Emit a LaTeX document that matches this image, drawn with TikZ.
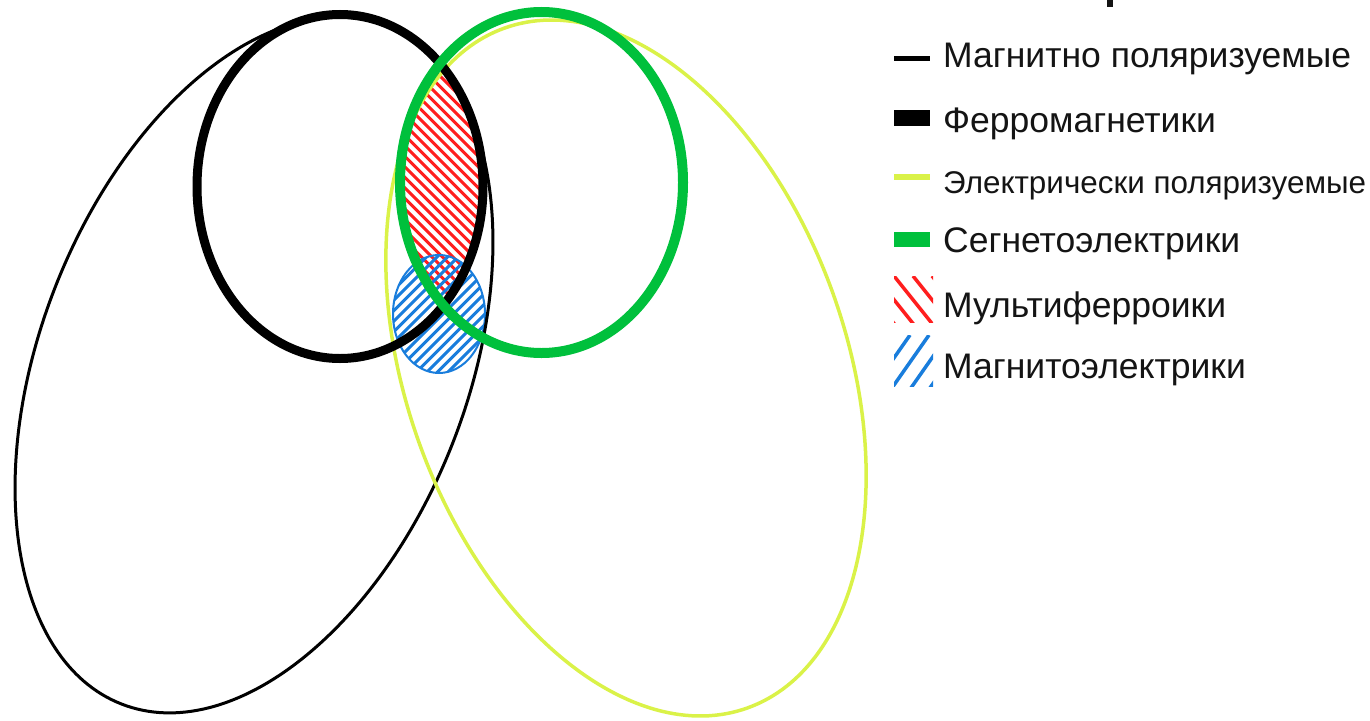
\documentclass[tikz,border=0pt]{standalone}
\usepackage{fontspec}
\setmainfont{Liberation Sans}
\definecolor{elyellow}{RGB}{218,242,72}
\definecolor{segngreen}{RGB}{0,192,60}
\definecolor{mfred}{RGB}{255,30,30}
\definecolor{meblue}{RGB}{25,125,220}
\definecolor{txt}{RGB}{20,20,20}
\begin{document}
\begin{tikzpicture}[x=1pt,y=-1pt,
  magpol/.style={black,line width=3},
  ferro/.style={black,line width=9},
  elpol/.style={elyellow,line width=3.5},
  segn/.style={segngreen,line width=10},
  redhatch/.style={mfred,line width=3},
  bluehatch/.style={meblue,line width=3},
  legtext/.style={anchor=base west,inner sep=0pt,text=txt,font=\fontsize{35.5}{40}\selectfont},
  legsmall/.style={legtext,font=\fontsize{31.4}{38}\selectfont},
]
\useasboundingbox (0,0) rectangle (1370,720);
% red hatch: ferromagnetics and ferroelectrics
\begin{scope}
  \clip (340,186.5) ellipse [x radius=143, y radius=172];
  \clip (541.5,182.5) ellipse [x radius=141.5, y radius=170.5];
  \foreach \k in {0,...,40} \draw[redhatch] (70+\k*10.5,0) -- ++(420,420);
\end{scope}
% blue hatch: magnetoelectrics
\begin{scope}
  \clip (439,314) ellipse [x radius=46, y radius=59];
  \foreach \k in {0,...,27} \draw[bluehatch] (610+\k*10.5,0) -- ++(-420,420);
\end{scope}
\draw[meblue,line width=2] (439,314) ellipse [x radius=46, y radius=59];
% sets
\draw[magpol, shift={(254,365)}, rotate=68.66] (0,0) ellipse [x radius=364, y radius=213.5];
\draw[elpol, shift={(626,368)}, rotate=-70.35] (0,0) ellipse [x radius=361, y radius=220];
\draw[ferro] (340,186.5) ellipse [x radius=143, y radius=172];
\draw[segn] (541.5,182.5) ellipse [x radius=141.5, y radius=170.5];
% cut-off fragment at top
\fill[txt] (1107,0) rectangle (1113,7);
% legend samples
\draw[black,line width=5] (894,58) -- (930,58);
\draw[black,line width=16] (894,118) -- (930,118);
\draw[elyellow,line width=5.5] (894,177) -- (930,177);
\draw[segngreen,line width=15] (894,239) -- (930,239);
\begin{scope}
  \clip (894,276) rectangle (933,322);
  \foreach \x in {856,875,894,913,932} \draw[redhatch,line width=3.5] (\x,276) -- ++(44,55);
\end{scope}
\begin{scope}
  \clip (894,335) rectangle (933,386);
  \foreach \x in {891,910,929,948,967} \draw[bluehatch,line width=3.5] (\x,335) -- ++(-38,54.3);
\end{scope}
% legend texts
\node[legtext] (l1) at (943,67) {Магнитно поляризуемые};
\node[legtext] (l2) at (943,132) {Ферромагнетики};
\node[legsmall] (l3) at (943,193) {Электрически поляризуемые};
\node[legtext] (l4) at (943,252) {Сегнетоэлектрики};
\node[legtext] (l5) at (943,317) {Мультиферроики};
\node[legtext] (l6) at (943,378) {Магнитоэлектрики};
\end{tikzpicture}
\end{document}
